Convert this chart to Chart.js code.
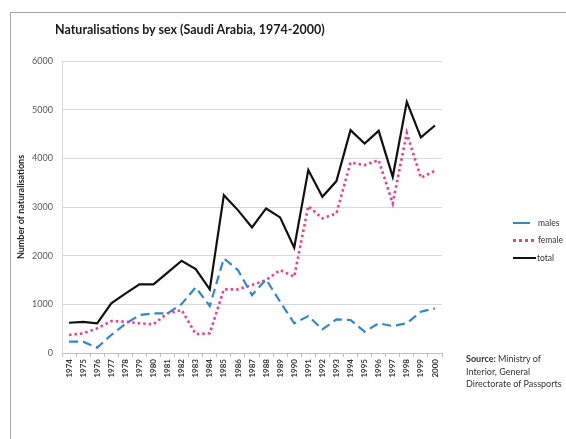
<!DOCTYPE html>
<html>
<head>
<meta charset="utf-8">
<script src="https://cdn.jsdelivr.net/npm/chart.js@4/dist/chart.umd.min.js"></script>
<style>
  html, body { margin: 0; padding: 0; background: #fff; }
  body { width: 566px; height: 439px; position: relative; overflow: hidden; font-family: Lato, "Open Sans", sans-serif; }
  #frame { position: absolute; left: 10px; top: 12px; width: 620px; height: 500px; border: 1px solid #a6a6a6; }
  #chart { position: absolute; left: 0; top: 0; }
  #title { position: absolute; left: 55px; top: 22px; font-size: 12.5px; font-weight: bold; color: #1a1a1a; white-space: nowrap; }
  #legend { position: absolute; left: 513px; top: 214px; font-size: 8.5px; color: #333; }
  #legend div { height: 17.5px; display: flex; align-items: center; white-space: nowrap; }
  #legend span.mark { display: inline-block; width: 21px; margin-right: 4px; height: 0; }
  #source { position: absolute; left: 466px; top: 353px; font-size: 9px; line-height: 12.5px; color: #333; }
</style>
</head>
<body>
<div id="frame"></div>
<canvas id="chart" width="566" height="439"></canvas>
<div id="title">Naturalisations by sex (Saudi Arabia, 1974-2000)</div>
<div id="legend">
  <div><span class="mark" style="width:17px;margin-right:8px;border-top:2.5px solid #2f88cc"></span>males</div>
  <div><span class="mark" style="border-top:3px dotted #f03c8c"></span>female</div>
  <div><span class="mark" style="width:23px;margin-right:1px;border-top:2.5px solid #111"></span>total</div>
</div>
<div id="source"><b>Source:</b> Ministry of<br>Interior, General<br>Directorate of Passports</div>
<script>
// Năm 1974-2000
const years = ["1974", "1975", "1976", "1977", "1978", "1979", "1980", "1981", "1982",
  "1983", "1984", "1985", "1986", "1987", "1988", "1989", "1990", "1991", "1992",
  "1993", "1994", "1995", "1996", "1997", "1998", "1999", "2000"];

// Số liệu
const males = [232, 232, 110, 370, 595, 780, 815, 815, 1006, 1349, 965, 1944, 1704,
  1191, 1513, 1053, 610, 760, 486, 692, 678, 438, 610, 554, 610, 848, 918];
const females = [370, 404, 507, 657, 643, 610, 590, 815, 883, 390, 404, 1308, 1308,
  1396, 1499, 1704, 1567, 3018, 2766, 2868, 3916, 3860, 3963, 3074, 4524, 3600, 3744];
const totals = [622, 640, 610, 1020, 1220, 1410, 1410, 1650, 1895, 1725, 1308, 3244, 2936,
  2580, 2970, 2786, 2163, 3758, 3210, 3532, 4579, 4305, 4565, 3620, 5160, 4429, 4675];

const yTicks = [0, 1000, 2000, 3000, 4000, 5000, 6000];

const ctx = document.getElementById("chart").getContext("2d");

new Chart(ctx, {
  type: "line",
  data: {
    labels: years,
    datasets: [
      {
        label: "males",
        data: males,
        borderColor: "#2f88cc",
        borderWidth: 2.2,
        borderDash: [9, 5],
        pointRadius: 0,
        tension: 0
      },
      {
        label: "female",
        data: females,
        borderColor: "#f03c8c",
        borderWidth: 2.6,
        borderDash: [2.5, 3],
        pointRadius: 0,
        tension: 0
      },
      {
        label: "total",
        data: totals,
        borderColor: "#111111",
        borderWidth: 2.2,
        pointRadius: 0,
        tension: 0
      }
    ]
  },
  options: {
    responsive: false,
    animation: false,
    layout: { padding: { left: 16, top: 61, right: 124, bottom: 0 } },
    plugins: {
      legend: { display: false },
      title: { display: false },
      tooltip: { enabled: false }
    },
    scales: {
      x: {
        offset: true,
        afterFit: (scale) => { scale.height = 86; },
        grid: {
          offset: true,
          drawOnChartArea: false,
          drawTicks: true,
          tickLength: 4,
          color: "#bfbfbf"
        },
        border: { color: "#bfbfbf" },
        ticks: {
          autoSkip: false,
          maxRotation: 90,
          minRotation: 90,
          padding: 2,
          color: "#333",
          font: { family: "Lato", size: 8, weight: "bold" }
        }
      },
      y: {
        min: 0,
        max: 6000,
        afterFit: (scale) => { scale.width = 46; },
        afterBuildTicks: (scale) => { scale.ticks = yTicks.map(v => ({ value: v })); },
        grid: { color: "#d9d9d9", drawTicks: false },
        border: { color: "#d9d9d9" },
        ticks: {
          padding: 9,
          color: "#595959",
          font: { family: "Lato", size: 9 },
          callback: (value) => String(value)
        },
        title: {
          display: true,
          text: "Number of naturalisations",
          color: "#222",
          padding: { top: 0, bottom: 0 },
          font: { family: "Lato", size: 9, weight: "bold" }
        }
      }
    }
  }
});
</script>
</body>
</html>
